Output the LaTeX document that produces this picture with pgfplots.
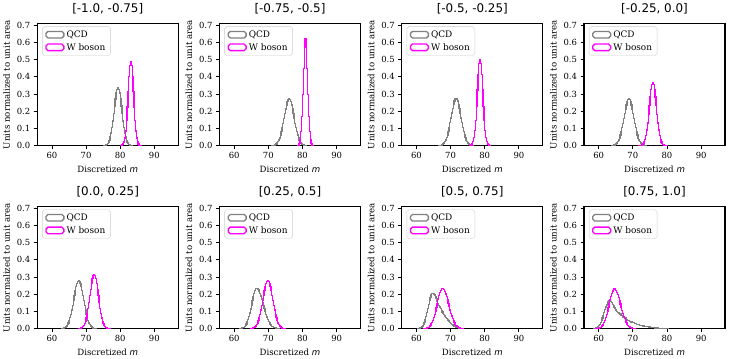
\documentclass[border=0pt]{standalone}
\usepackage{pgfplots}
\pgfplotsset{compat=1.18}
\usepgfplotslibrary{groupplots}
\usepackage{fontspec}
\setmainfont{DejaVu Serif}
\newfontfamily\titlefont{DejaVu Sans}
\definecolor{qcdgray}{HTML}{808080}
\definecolor{wmag}{HTML}{FF00FF}

\pgfplotsset{
  panel/.style={
    scale only axis, width=142pt, height=123pt,
    xmin=55.7, xmax=97, ymin=0, ymax=0.71,
    xtick={60,70,80,90}, ytick={0,0.1,0.2,0.3,0.4,0.5,0.6,0.7},
    y tick label style={/pgf/number format/.cd,fixed,fixed zerofill,precision=1},
    /pgf/number format/assume math mode=true,
    tick align=outside, xtick pos=bottom, ytick pos=left,
    major tick length=3.5pt, tick style={black,line width=0.8pt},
    axis line style={line width=1.2pt},
    tick label style={font=\fontsize{8.5}{10}\selectfont},
    label style={font=\fontsize{8.7}{10}\selectfont},
    xlabel={Discretized {\titlefont\itshape m}},
    ylabel={Units normalized to unit area},
    title style={font=\titlefont\fontsize{12}{14}\selectfont},
    legend style={at={(0.035,0.975)},anchor=north west,draw=black!20,rounded corners=2pt,
      font=\fontsize{9}{10.5}\selectfont,row sep=0.5pt,inner xsep=3pt,inner ysep=2pt},
    legend cell align=left,
    legend image code/.code={\draw[##1] (0pt,-3.3pt) rectangle (18pt,3.3pt);},
  },
  qcd/.style={const plot,draw=qcdgray,line width=1.3pt,no marks},
  wb/.style={const plot,draw=wmag,line width=1.3pt,no marks},
}

\begin{document}
\begin{tikzpicture}
\begin{groupplot}[group style={group size=4 by 2,horizontal sep=41.5pt,vertical sep=61.3pt},panel]
% ---------- row 1
\nextgroupplot[title={[-1.0, -0.75]}]
\addplot[qcd] coordinates {(75.25,0)(75.25,.0008)(75.5,.0016)(75.75,.0033)(76,.0062)(76.25,.0112)(76.5,.0192)(76.75,.0315)(77,.0494)(77.25,.0738)(77.5,.1052)(77.75,.1431)(78,.1856)(78.25,.2295)(78.5,.2708)(78.75,.3048)(79,.3272)(79.25,.335)(79.5,.3272)(79.75,.3048)(80,.2708)(80.25,.2295)(80.5,.1856)(80.75,.1431)(81,.1052)(81.25,.0738)(81.5,.0494)(81.75,.0315)(82,.0192)(82.25,.0112)(82.5,.0062)(82.75,.0033)(83,.0016)(83.25,.0008)(83.5,0)};
\addlegendentry{QCD}
\addplot[wb] coordinates {(80,0)(80,.0004)(80.25,.0013)(80.5,.0037)(80.75,.0094)(81,.0215)(81.25,.0448)(81.5,.0845)(81.75,.1446)(82,.2243)(82.25,.3158)(82.5,.4031)(82.75,.4666)(83,.49)(83.25,.4666)(83.5,.4031)(83.75,.3158)(84,.2243)(84.25,.1446)(84.5,.0845)(84.75,.0448)(85,.0215)(85.25,.0094)(85.5,.0037)(85.75,.0013)(86,.0004)(86.25,0)};
\addlegendentry{W boson}

\nextgroupplot[title={[-0.75, -0.5]}]
\addplot[qcd] coordinates {(71,0)(71,.0007)(71.25,.0013)(71.5,.0022)(71.75,.0037)(72,.006)(72.25,.0095)(72.5,.0147)(72.75,.0219)(73,.0318)(73.25,.0447)(73.5,.0611)(73.75,.081)(74,.1043)(74.25,.1303)(74.5,.1581)(74.75,.1862)(75,.2128)(75.25,.2362)(75.5,.2544)(75.75,.266)(76,.27)(76.25,.266)(76.5,.2544)(76.75,.2362)(77,.2128)(77.25,.1862)(77.5,.1581)(77.75,.1303)(78,.1043)(78.25,.081)(78.5,.0611)(78.75,.0447)(79,.0318)(79.25,.0219)(79.5,.0147)(79.75,.0095)(80,.006)(80.25,.0037)(80.5,.0022)(80.75,.0013)(81,.0007)(81.25,0)};
\addlegendentry{QCD}
\addplot[wb] coordinates {(78.5,0)(78.5,.0009)(78.75,.0034)(79,.0115)(79.25,.0332)(79.5,.0813)(79.75,.1689)(80,.2983)(80.25,.4479)(80.5,.5716)(80.75,.62)(81,.5716)(81.25,.4479)(81.5,.2983)(81.75,.1689)(82,.0813)(82.25,.0332)(82.5,.0115)(82.75,.0034)(83,.0009)(83.25,0)};
\addlegendentry{W boson}

\nextgroupplot[title={[-0.5, -0.25]}]
\addplot[qcd] coordinates {(66.5,0)(66.5,.0007)(66.75,.0013)(67,.0022)(67.25,.0037)(67.5,.0061)(67.75,.0097)(68,.0149)(68.25,.0223)(68.5,.0323)(68.75,.0455)(69,.0622)(69.25,.0825)(69.5,.1062)(69.75,.1327)(70,.161)(70.25,.1896)(70.5,.2168)(70.75,.2406)(71,.2591)(71.25,.2709)(71.5,.275)(71.75,.2709)(72,.2591)(72.25,.2406)(72.5,.2168)(72.75,.1896)(73,.161)(73.25,.1327)(73.5,.1062)(73.75,.0825)(74,.0622)(74.25,.0455)(74.5,.0323)(74.75,.0223)(75,.0149)(75.25,.0097)(75.5,.0061)(75.75,.0037)(76,.0022)(76.25,.0013)(76.5,.0007)(76.75,0)};
\addlegendentry{QCD}
\addplot[wb] coordinates {(75.5,0)(75.5,.0005)(75.75,.0014)(76,.0038)(76.25,.0096)(76.5,.022)(76.75,.0457)(77,.0862)(77.25,.1475)(77.5,.2289)(77.75,.3222)(78,.4113)(78.25,.4762)(78.5,.5)(78.75,.4762)(79,.4113)(79.25,.3222)(79.5,.2289)(79.75,.1475)(80,.0862)(80.25,.0457)(80.5,.022)(80.75,.0096)(81,.0038)(81.25,.0014)(81.5,.0005)(81.75,0)};
\addlegendentry{W boson}

\nextgroupplot[title={[-0.25, 0.0]}]
\addplot[qcd] coordinates {(63.75,0)(63.75,.0007)(64,.0013)(64.25,.0022)(64.5,.0037)(64.75,.006)(65,.0095)(65.25,.0147)(65.5,.0219)(65.75,.0318)(66,.0447)(66.25,.0611)(66.5,.081)(66.75,.1043)(67,.1303)(67.25,.1581)(67.5,.1862)(67.75,.2128)(68,.2362)(68.25,.2544)(68.5,.266)(68.75,.27)(69,.266)(69.25,.2544)(69.5,.2362)(69.75,.2128)(70,.1862)(70.25,.1581)(70.5,.1303)(70.75,.1043)(71,.081)(71.25,.0611)(71.5,.0447)(71.75,.0318)(72,.0219)(72.25,.0147)(72.5,.0095)(72.75,.006)(73,.0037)(73.25,.0022)(73.5,.0013)(73.75,.0007)(74,0)};
\addlegendentry{QCD}
\addplot[wb] coordinates {(71.75,0)(71.75,.0003)(72,.0006)(72.25,.0014)(72.5,.003)(72.75,.0062)(73,.0118)(73.25,.0214)(73.5,.0368)(73.75,.0595)(74,.091)(74.25,.1315)(74.5,.1797)(74.75,.2319)(75,.2828)(75.25,.3259)(75.5,.3548)(75.75,.365)(76,.3548)(76.25,.3259)(76.5,.2828)(76.75,.2319)(77,.1797)(77.25,.1315)(77.5,.091)(77.75,.0595)(78,.0368)(78.25,.0214)(78.5,.0118)(78.75,.0062)(79,.003)(79.25,.0014)(79.5,.0006)(79.75,.0003)(80,0)};
\addlegendentry{W boson}

% ---------- row 2
\nextgroupplot[title={[0.0, 0.25]}]
\addplot[qcd] coordinates {(62.75,0)(62.75,.0007)(63,.0013)(63.25,.0023)(63.5,.0038)(63.75,.0062)(64,.0099)(64.25,.0152)(64.5,.0227)(64.75,.0329)(65,.0464)(65.25,.0633)(65.5,.084)(65.75,.1082)(66,.1352)(66.25,.164)(66.5,.1931)(66.75,.2207)(67,.2449)(67.25,.2638)(67.5,.2759)(67.75,.28)(68,.2759)(68.25,.2638)(68.5,.2449)(68.75,.2207)(69,.1931)(69.25,.164)(69.5,.1352)(69.75,.1082)(70,.084)(70.25,.0633)(70.5,.0464)(70.75,.0329)(71,.0227)(71.25,.0152)(71.5,.0099)(71.75,.0062)(72,.0038)(72.25,.0023)(72.5,.0013)(72.75,.0007)(73,0)};
\addlegendentry{QCD}
\addplot[wb] coordinates {(67.75,0)(67.75,.0005)(68,.001)(68.25,.0019)(68.5,.0035)(68.75,.0062)(69,.0107)(69.25,.0177)(69.5,.028)(69.75,.0426)(70,.0623)(70.25,.0876)(70.5,.1182)(70.75,.1533)(71,.191)(71.25,.2287)(71.5,.2631)(71.75,.2908)(72,.3088)(72.25,.315)(72.5,.3088)(72.75,.2908)(73,.2631)(73.25,.2287)(73.5,.191)(73.75,.1533)(74,.1182)(74.25,.0876)(74.5,.0623)(74.75,.0426)(75,.028)(75.25,.0177)(75.5,.0107)(75.75,.0062)(76,.0035)(76.25,.0019)(76.5,.001)(76.75,.0005)(77,0)};
\addlegendentry{W boson}

\nextgroupplot[title={[0.25, 0.5]}]
\addplot[qcd] coordinates {(61.5,0)(61.5,.0006)(61.75,.0011)(62,.0019)(62.25,.0032)(62.5,.0052)(62.75,.0083)(63,.0128)(63.25,.0191)(63.5,.0276)(63.75,.0389)(64,.0532)(64.25,.0705)(64.5,.0908)(64.75,.1134)(65,.1376)(65.25,.1621)(65.5,.1853)(65.75,.2056)(66,.2214)(66.25,.2315)(66.5,.235)(66.75,.233)(67,.227)(67.25,.2174)(67.5,.2046)(67.75,.1893)(68,.1721)(68.25,.1538)(68.5,.1351)(68.75,.1166)(69,.0989)(69.25,.0825)(69.5,.0676)(69.75,.0544)(70,.0431)(70.25,.0335)(70.5,.0256)(70.75,.0192)(71,.0142)(71.25,.0103)(71.5,.0074)(71.75,.0052)(72,.0035)(72.25,.0024)(72.5,.0016)(72.75,.0011)(73,.0007)(73.25,0)};
\addlegendentry{QCD}
\addplot[wb] coordinates {(64.75,0)(64.75,.0007)(65,.0013)(65.25,.0023)(65.5,.0038)(65.75,.0062)(66,.0099)(66.25,.0152)(66.5,.0227)(66.75,.0329)(67,.0464)(67.25,.0633)(67.5,.084)(67.75,.1082)(68,.1352)(68.25,.164)(68.5,.1931)(68.75,.2207)(69,.2449)(69.25,.2638)(69.5,.2759)(69.75,.28)(70,.2759)(70.25,.2638)(70.5,.2449)(70.75,.2207)(71,.1931)(71.25,.164)(71.5,.1352)(71.75,.1082)(72,.084)(72.25,.0633)(72.5,.0464)(72.75,.0329)(73,.0227)(73.25,.0152)(73.5,.0099)(73.75,.0062)(74,.0038)(74.25,.0023)(74.5,.0013)(74.75,.0007)(75,0)};
\addlegendentry{W boson}

\nextgroupplot[title={[0.5, 0.75]}]
\addplot[qcd] coordinates {(60.5,0)(60.5,.001)(60.75,.002)(61,.003)(61.25,.006)(61.5,.01)(61.75,.016)(62,.025)(62.25,.036)(62.5,.052)(62.75,.07)(63,.093)(63.25,.117)(63.5,.14)(63.75,.162)(64,.181)(64.25,.196)(64.5,.204)(64.75,.205)(65,.202)(65.25,.195)(65.5,.185)(65.75,.173)(66,.161)(66.25,.148)(66.5,.136)(66.75,.125)(67,.115)(67.25,.106)(67.5,.097)(67.75,.089)(68,.081)(68.25,.073)(68.5,.066)(68.75,.059)(69,.052)(69.25,.046)(69.5,.04)(69.75,.034)(70,.029)(70.25,.025)(70.5,.021)(70.75,.017)(71,.014)(71.25,.011)(71.5,.008)(71.75,.006)(72,.0045)(72.25,.0035)(72.5,.0025)(72.75,.0017)(73,.0011)(73.25,.0006)(73.5,0)};
\addlegendentry{QCD}
\addplot[wb] coordinates {(62.25,0)(62.25,.0008)(62.5,.0013)(62.75,.0021)(63,.0035)(63.25,.0055)(63.5,.0084)(63.75,.0126)(64,.0184)(64.25,.0261)(64.5,.0361)(64.75,.0487)(65,.064)(65.25,.0819)(65.5,.1022)(65.75,.1242)(66,.1471)(66.25,.1698)(66.5,.1908)(66.75,.209)(67,.2231)(67.25,.232)(67.5,.235)(67.75,.2327)(68,.2261)(68.25,.2155)(68.5,.2014)(68.75,.1847)(69,.1661)(69.25,.1465)(69.5,.1268)(69.75,.1076)(70,.0896)(70.25,.0732)(70.5,.0586)(70.75,.046)(71,.0355)(71.25,.0268)(71.5,.0199)(71.75,.0145)(72,.0103)(72.25,.0072)(72.5,.005)(72.75,.0033)(73,.0022)(73.25,.0014)(73.5,.0009)(73.75,0)};
\addlegendentry{W boson}

\nextgroupplot[title={[0.75, 1.0]}]
\addplot[qcd] coordinates {(58.5,0)(58.5,.001)(58.75,.002)(59,.003)(59.25,.005)(59.5,.008)(59.75,.012)(60,.018)(60.25,.026)(60.5,.036)(60.75,.048)(61,.062)(61.25,.078)(61.5,.094)(61.75,.11)(62,.125)(62.25,.138)(62.5,.149)(62.75,.157)(63,.161)(63.25,.162)(63.5,.158)(63.75,.151)(64,.142)(64.25,.133)(64.5,.124)(64.75,.116)(65,.108)(65.25,.101)(65.5,.095)(65.75,.09)(66,.085)(66.5,.076)(67,.068)(67.5,.061)(68,.054)(68.5,.048)(69,.043)(69.5,.038)(70,.034)(70.5,.03)(71,.026)(71.5,.023)(72,.02)(72.5,.017)(73,.015)(73.5,.013)(74,.011)(74.5,.009)(75,.0075)(75.5,.0062)(76,.005)(76.5,.004)(77,.0032)(77.5,.0025)(78,.0019)(78.5,.0014)(79,.001)(79.5,.0007)(80,.0004)(80.5,0)};
\addlegendentry{QCD}
\addplot[wb] coordinates {(59.25,0)(59.25,.0007)(59.5,.0013)(59.75,.0021)(60,.0034)(60.25,.0054)(60.5,.0082)(60.75,.0123)(61,.018)(61.25,.0255)(61.5,.0354)(61.75,.0477)(62,.0626)(62.25,.0802)(62.5,.1001)(62.75,.1216)(63,.144)(63.25,.1662)(63.5,.1868)(63.75,.2046)(64,.2183)(64.25,.227)(64.5,.23)(64.75,.2278)(65,.2213)(65.25,.2109)(65.5,.1971)(65.75,.1807)(66,.1625)(66.25,.1434)(66.5,.1241)(66.75,.1053)(67,.0877)(67.25,.0716)(67.5,.0574)(67.75,.0451)(68,.0347)(68.25,.0262)(68.5,.0195)(68.75,.0142)(69,.0101)(69.25,.0071)(69.5,.0049)(69.75,.0033)(70,.0022)(70.25,.0014)(70.5,.0009)(70.75,0)};
\addlegendentry{W boson}
\end{groupplot}
\path ([shift={(-33.3pt,23.3pt)}]group c1r1.north west) rectangle ([shift={(6pt,-30.3pt)}]group c4r2.south east);
\end{tikzpicture}
\end{document}
